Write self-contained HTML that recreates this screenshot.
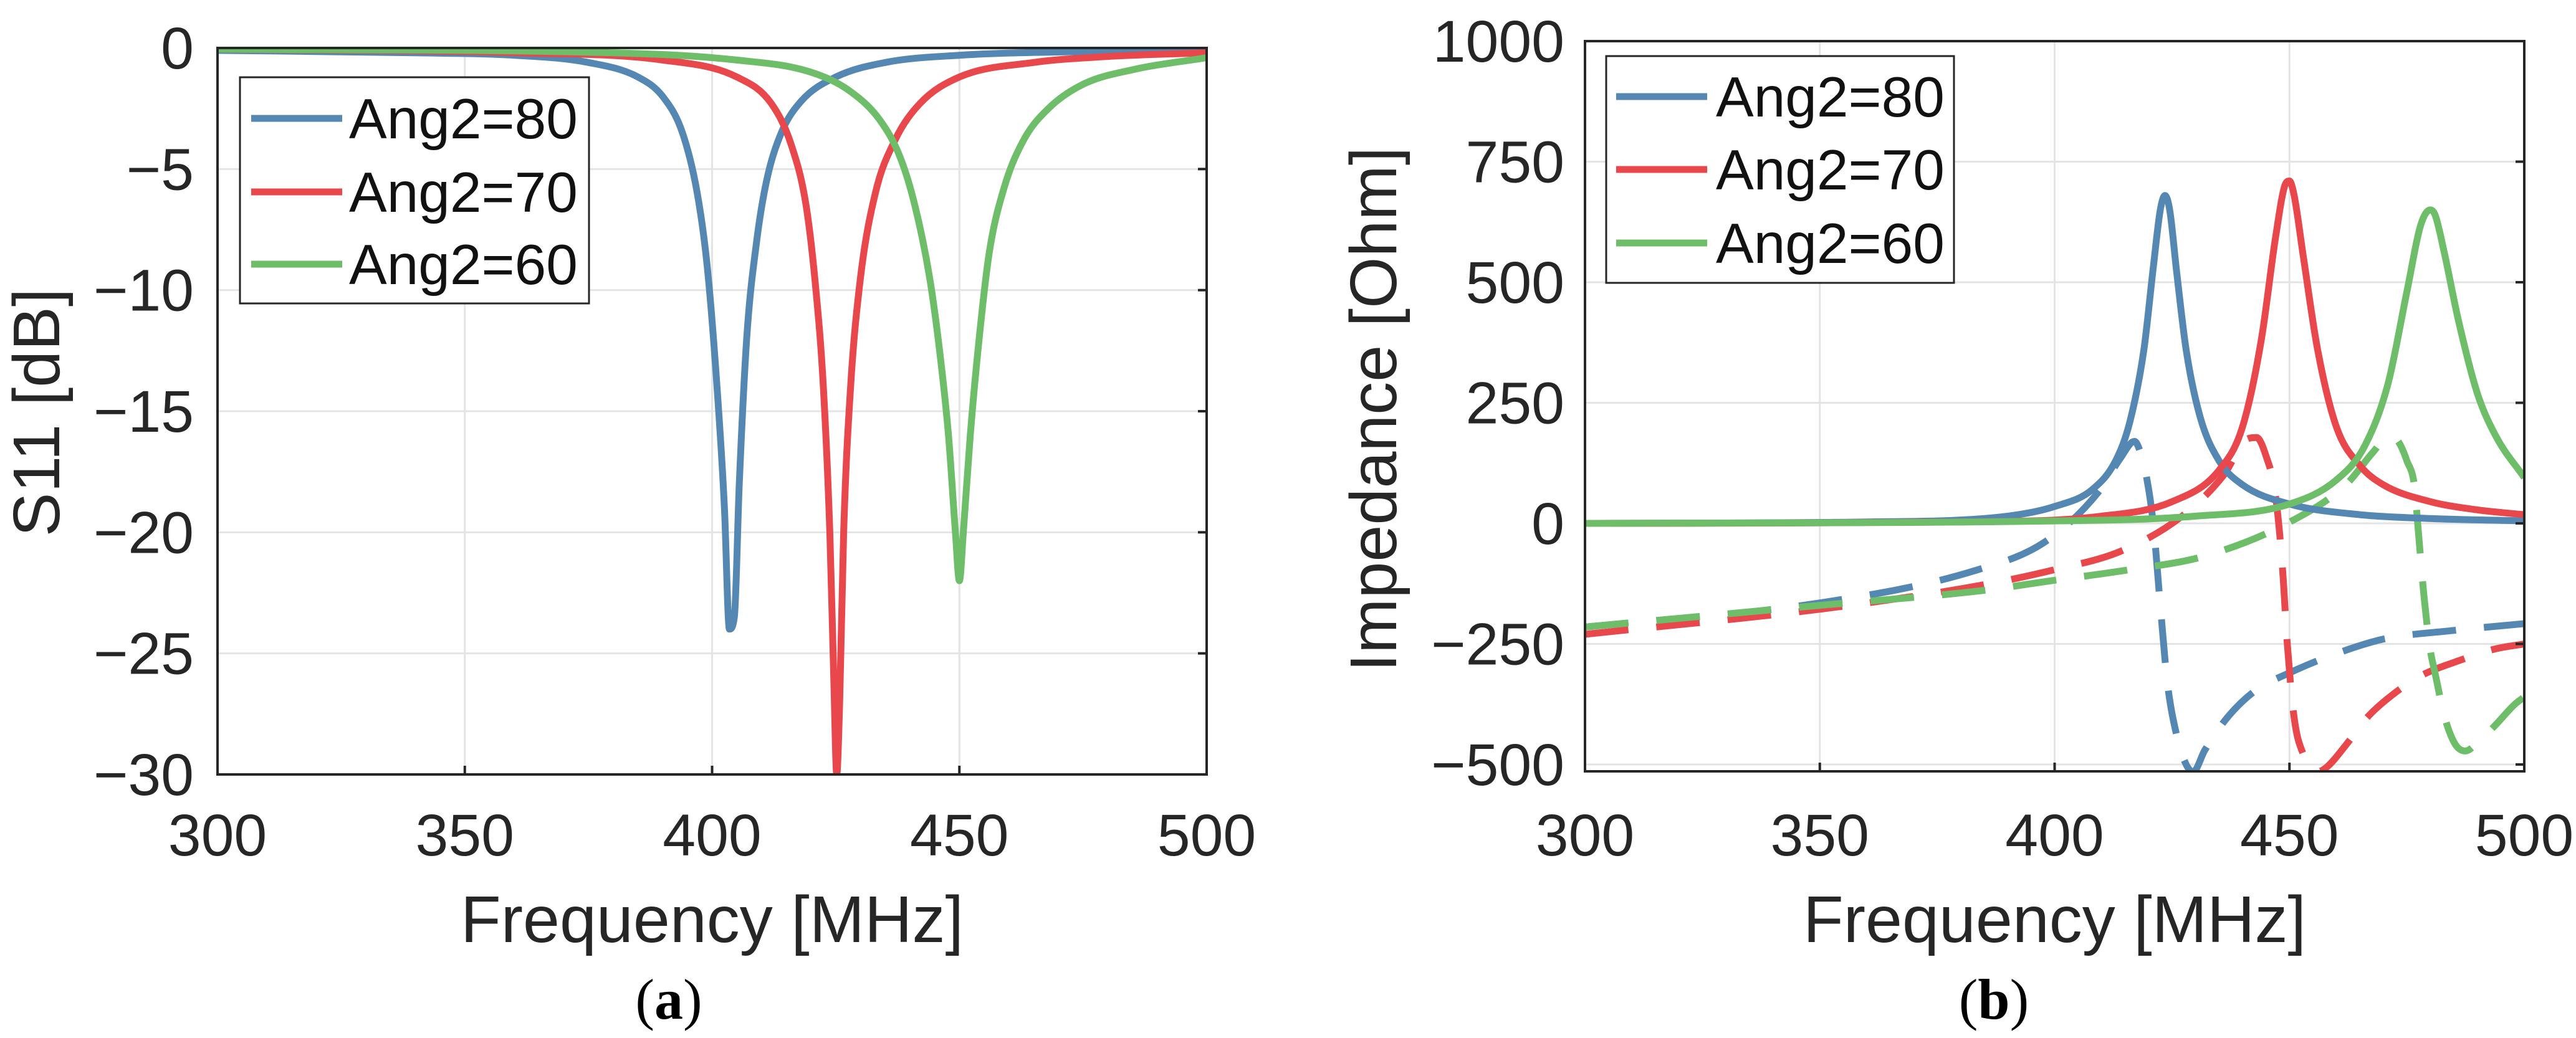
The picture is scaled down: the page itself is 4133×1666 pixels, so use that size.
<!DOCTYPE html>
<html><head><meta charset="utf-8"><style>
html,body{margin:0;padding:0;background:#fff;}
svg{display:block;font-family:"Liberation Sans",Arial,sans-serif;}
</style></head><body>
<svg id="fig" width="4133" height="1666" viewBox="0 0 4133 1666" xmlns="http://www.w3.org/2000/svg">
<defs>
<clipPath id="clipA"><rect x="349" y="77" width="1587" height="1166"/></clipPath>
<clipPath id="clipB"><rect x="2543" y="60" width="1507" height="1178"/></clipPath>
</defs>
<g id="chartA"></g>
<g id="chartB"></g>
<text x="1073" y="1635" font-family="Liberation Serif,serif" font-size="92" text-anchor="middle">(<tspan font-weight="bold">a</tspan>)</text>
<text x="3199" y="1635" font-family="Liberation Serif,serif" font-size="92" text-anchor="middle">(<tspan font-weight="bold">b</tspan>)</text>
</svg>
<script>
const xTicks = [300, 350, 400, 450, 500];
const aYTicks = [0, -5, -10, -15, -20, -25, -30];
const bYTicks = [1000, 750, 500, 250, 0, -250, -500];
const seriesNames = ["Ang2=80", "Ang2=70", "Ang2=60"];
const colors = ["#5587b3", "#e8474c", "#6dbd69"];

const s11Freq80 = [300,340,360,375,385,390,394,397,399,401,402.5,403.5,404.5,405.5,407,409,411,414,418,425,435,450,475,500];
const s11Val80 = [-0.1,-0.2,-0.3,-0.6,-1.2,-2,-3.5,-6,-9,-14,-19,-24,-23.5,-18,-12,-8,-5.5,-3.5,-2.2,-1.2,-0.6,-0.3,-0.15,-0.1];
const s11Freq70 = [300,360,390,405,412,416,419,421,422.5,423.8,424.6,425.2,425.8,426.6,428,430,433,437,442,450,465,480,500];
const s11Val70 = [-0.05,-0.2,-0.5,-1.2,-2.3,-4,-6.5,-10,-14,-20,-26,-30,-27,-20,-14,-9.5,-6,-3.8,-2.3,-1.2,-0.6,-0.35,-0.2];
const s11Freq60 = [300,380,405,420,428,434,438,441,444,446,447.8,449.2,450,450.8,452.2,454,456,459,463,468,475,485,500];
const s11Val60 = [-0.05,-0.2,-0.5,-1,-1.8,-3,-4.5,-6.5,-9.5,-12.5,-16,-20,-22,-20,-16,-12,-8.5,-5.8,-3.8,-2.5,-1.5,-0.9,-0.4];

const reFreq80 = [300,360,390,400,408,413,416,419,421,422.5,423.5,424.5,426,428,431,435,440,450,465,480,500];
const reVal80 = [0,3,15,35,70,130,210,360,530,650,680,650,520,360,220,130,80,40,18,10,5];
const reFreq70 = [300,380,410,425,435,440,444,447,449,450,451,453,456,460,465,470,480,490,500];
const reVal70 = [0,3,15,45,110,200,380,590,700,710,680,550,360,200,120,80,45,28,18];
const reFreq60 = [300,400,430,450,460,466,471,475,478,480,481,483,486,490,494,500];
const reVal60 = [0,5,15,40,90,160,290,480,620,650,640,560,420,270,180,95];

const imFreq80 = [300,350,383,398,409.5,414,417,418.5,419.5,421,422.5,424,426,428,429.5,432,437,443,450,460,470,485,500];
const imVal80 = [-215,-165,-98,-38,67,135,170,140,100,0,-170,-330,-440,-500,-515,-470,-400,-345,-310,-270,-240,-222,-208];
const imFreq70 = [300,350,384,400,414,427,436,441,443,445,447,448.5,449.5,451,453,456,458,462,466.5,472,478,486,494,500];
const imVal70 = [-230,-178,-129,-96,-58,14,100,175,178,140,60,-90,-245,-403,-480,-515,-505,-460,-403,-355,-316,-285,-260,-250];
const imFreq60 = [300,350,384,400,416,431.5,449.5,462,468,471,473,475,476.7,477.3,478.7,480,481,483,485.3,487.5,490,493.7,498,500];
const imVal60 = [-215,-170,-140,-118,-96,-69,0,80,150,180,172,130,72,0,-156,-263,-310,-400,-458,-472,-455,-420,-375,-360];

const NS = "http://www.w3.org/2000/svg";
function el(tag, attrs, parent) {
  const e = document.createElementNS(NS, tag);
  for (const k in attrs) e.setAttribute(k, attrs[k]);
  parent.appendChild(e);
  return e;
}
function makeAxes(x0, x1, y0v, y1v, py0, py1) {
  return {
    x: f => x0 + (f - 300) / 200 * (x1 - x0),
    y: v => py0 + (y0v - v) / (y0v - y1v) * (py1 - py0)
  };
}
// monotone cubic (Fritsch-Carlson) path through data points, in pixel space
function monoPath(xs, ys) {
  const n = xs.length, d = [], m = [];
  for (let i = 0; i < n - 1; i++) d.push((ys[i+1]-ys[i])/(xs[i+1]-xs[i]));
  m[0] = d[0]; m[n-1] = d[n-2];
  for (let i = 1; i < n - 1; i++) m[i] = (d[i-1]*d[i] <= 0) ? 0 : (d[i-1]+d[i])/2;
  for (let i = 0; i < n - 1; i++) {
    if (d[i] === 0) { m[i] = 0; m[i+1] = 0; continue; }
    const a = m[i]/d[i], b = m[i+1]/d[i], s = a*a + b*b;
    if (s > 9) { const t = 3/Math.sqrt(s); m[i] = t*a*d[i]; m[i+1] = t*b*d[i]; }
  }
  let p = "M" + xs[0].toFixed(1) + "," + ys[0].toFixed(1);
  for (let i = 0; i < n - 1; i++) {
    const h = (xs[i+1]-xs[i])/3;
    p += " C" + (xs[i]+h).toFixed(1) + "," + (ys[i]+m[i]*h).toFixed(1) + " " +
         (xs[i+1]-h).toFixed(1) + "," + (ys[i+1]-m[i+1]*h).toFixed(1) + " " +
         xs[i+1].toFixed(1) + "," + ys[i+1].toFixed(1);
  }
  return p;
}

function drawChart(g, box, ax, yTicks, clipId) {
  for (const t of xTicks) {
    const l = el("line", {x1: ax.x(t), x2: ax.x(t), y1: box.top, y2: box.bottom, stroke: "#e4e4e4", "stroke-width": 3}, g);
    
    
  }
  for (const t of yTicks) {
    const l = el("line", {x1: box.left, x2: box.right, y1: ax.y(t), y2: ax.y(t), stroke: "#e4e4e4", "stroke-width": 3}, g);
    
    
  }
  const series = el("g", {"clip-path": "url(#" + clipId + ")"}, g);
  
  
  return series;
}

function addLine(parent, fs, vs, ax, color, dashed, name) {
  const xs = fs.map(f => ax.x(f)), ys = vs.map(v => ax.y(v));
  const p = el("path", {d: monoPath(xs, ys), fill: "none", stroke: color, "stroke-width": 11, "stroke-linejoin": "round", "stroke-linecap": "butt"}, parent);
  if (dashed) p.setAttribute("stroke-dasharray", "70 45");
  
  
}

function frameAndTicks(g, box, ax, yTicks, yFmt, tickRight, labelText, ylabX, ylabY) {
  const r = el("rect", {x: box.left, y: box.top, width: box.right - box.left, height: box.bottom - box.top, fill: "none", stroke: "#262626", "stroke-width": 4}, g);
  
  
  for (const t of xTicks) {
    const tx = el("text", {x: ax.x(t), y: 1373, "font-size": 95, "text-anchor": "middle", fill: "#262626"}, g);
    tx.textContent = t;
    
    
    el("line", {x1: ax.x(t), x2: ax.x(t), y1: box.bottom, y2: box.bottom - 14, stroke: "#262626", "stroke-width": 4}, g);
  }
  for (const t of yTicks) {
    const ty = el("text", {x: tickRight, y: ax.y(t) + 33, "font-size": 95, "text-anchor": "end", fill: "#262626"}, g);
    ty.textContent = yFmt(t);
    
    
    el("line", {x1: box.right, x2: box.right - 14, y1: ax.y(t), y2: ax.y(t), stroke: "#262626", "stroke-width": 4}, g);
  }
  const xl = el("text", {x: (box.left + box.right) / 2, y: 1512, "font-size": 106, "text-anchor": "middle", fill: "#262626"}, g);
  xl.textContent = "Frequency [MHz]";
  
  
  const yl = el("text", {x: ylabX, y: ylabY, "font-size": 106, "text-anchor": "middle", fill: "#262626", transform: "rotate(-90 " + ylabX + " " + ylabY + ")"}, g);
  yl.textContent = labelText;
  
  
}

function legend(g, lx, ly, lw, lh, rows, lineX0, lineX1, textX) {
  const b = el("rect", {x: lx, y: ly, width: lw, height: lh, fill: "#fff", stroke: "#262626", "stroke-width": 3}, g);
  
  
  for (let i = 0; i < 3; i++) {
    const ln = el("line", {x1: lineX0, x2: lineX1, y1: rows[i], y2: rows[i], stroke: colors[i], "stroke-width": 11}, g);
    
    
    const t = el("text", {x: textX, y: rows[i] + 32, "font-size": 91, fill: "#111"}, g);
    t.textContent = seriesNames[i];
    
    
  }
}

const minus = t => (t < 0 ? "\u2212" + Math.abs(t) : String(t));

const gA = document.getElementById("chartA");
const boxA = {left: 349, right: 1936, top: 77, bottom: 1243};
const axA = makeAxes(349, 1936, 0, -30, 77, 1243);
const sA = drawChart(gA, boxA, axA, aYTicks, "clipA");
addLine(sA, s11Freq80, s11Val80, axA, colors[0], false, "s11-ang2-80");
addLine(sA, s11Freq70, s11Val70, axA, colors[1], false, "s11-ang2-70");
addLine(sA, s11Freq60, s11Val60, axA, colors[2], false, "s11-ang2-60");
frameAndTicks(gA, boxA, axA, aYTicks, minus, 311, "S11 [dB]", 95, 662);
legend(gA, 385, 124, 560, 363, [190, 308, 424], 403, 549, 560);

const gB = document.getElementById("chartB");
const boxB = {left: 2543, right: 4050, top: 66, bottom: 1238};
const axB = makeAxes(2543, 4050, 1000, -500, 66, 1227);
const sB = drawChart(gB, boxB, axB, bYTicks, "clipB");
addLine(sB, imFreq80, imVal80, axB, colors[0], true, "imag-ang2-80");
addLine(sB, imFreq70, imVal70, axB, colors[1], true, "imag-ang2-70");
addLine(sB, imFreq60, imVal60, axB, colors[2], true, "imag-ang2-60");
addLine(sB, reFreq80, reVal80, axB, colors[0], false, "real-ang2-80");
addLine(sB, reFreq70, reVal70, axB, colors[1], false, "real-ang2-70");
addLine(sB, reFreq60, reVal60, axB, colors[2], false, "real-ang2-60");
frameAndTicks(gB, boxB, axB, bYTicks, minus, 2510, "Impedance [Ohm]", 2240, 657);
legend(gB, 2577, 90, 558, 364, [155, 272, 390], 2593, 2739, 2753);
</script>
</body></html>
